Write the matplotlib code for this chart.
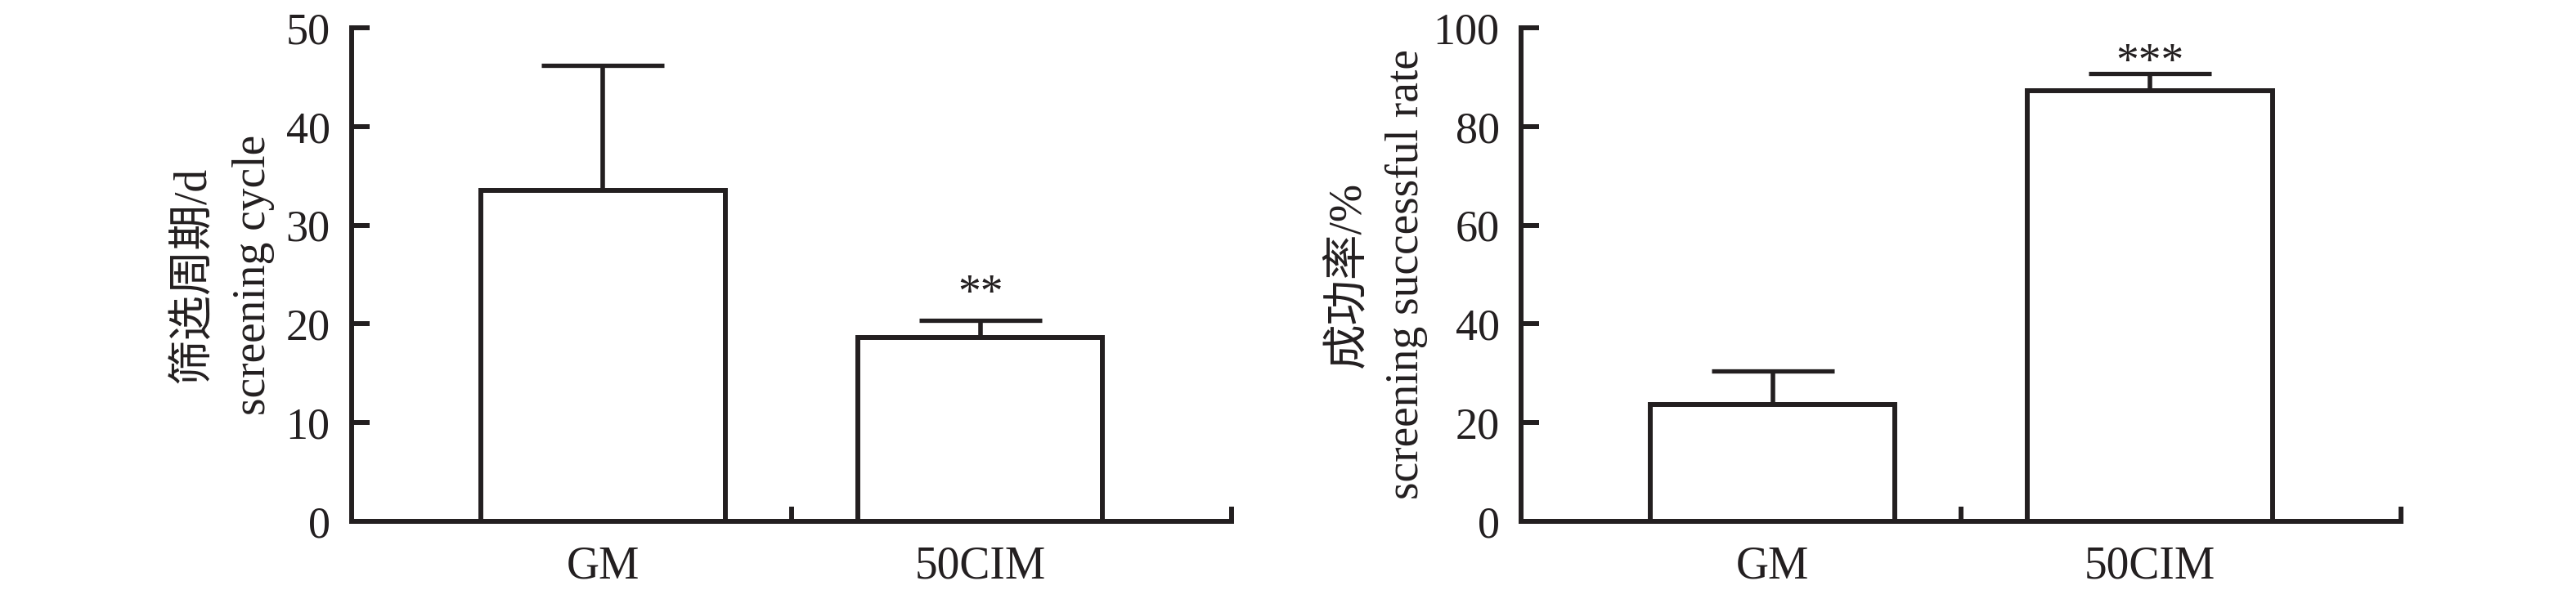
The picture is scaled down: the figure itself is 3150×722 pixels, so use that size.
import numpy as np
import matplotlib
matplotlib.use("Agg")
import matplotlib.pyplot as plt
from matplotlib.ticker import FixedLocator

# data
categories = ["GM", "50CIM"]
cycle_mean = [33.5, 18.6]
cycle_err = [12.7, 1.8]
cycle_sig = ["", "**"]
rate_mean = [23.7, 87.3]
rate_err = [6.8, 3.4]
rate_sig = ["", "***"]

ink = "#231F20"
serif = ["Liberation Serif", "Noto Sans CJK SC"]
plt.rcParams["font.family"] = serif
plt.rcParams["text.color"] = ink

fig = plt.figure(figsize=(31.5, 7.22), dpi=100)
ax1 = fig.add_axes([0.1365, 0.1163, 0.3416, 0.8366])
ax2 = fig.add_axes([0.5905, 0.1163, 0.3416, 0.8366])

panels = [
    (ax1, cycle_mean, cycle_err, cycle_sig, 50, 10, "筛选周期/d", "screening cycle",
     -0.180, -0.1115, 12),
    (ax2, rate_mean, rate_err, rate_sig, 100, 20, "成功率/%", "screening successful rate",
     -0.197, -0.130, -1.5),
]

x = np.arange(len(categories))
for ax, mean, err, sig, ymax, ystep, lab_cn, lab_en, xcn, xen, sig_off in panels:
    ax.bar(x, mean, width=0.65, color="white", edgecolor=ink, linewidth=4.3, zorder=3)
    ax.errorbar(x, mean, yerr=[np.zeros(len(mean)), err], fmt="none", ecolor=ink,
                elinewidth=4.0, capsize=54, capthick=3.8, zorder=2)
    for xi, m, e, s in zip(x, mean, err, sig):
        if s:
            ax.annotate(s, xy=(xi, m + e), xytext=(0, sig_off), textcoords="offset points",
                        ha="center", va="baseline", fontsize=40, color=ink,
                        family="Liberation Serif")

    ax.set_xlim(-2 / 3, 5 / 3)
    ax.set_ylim(0, ymax)
    ax.set_yticks(np.arange(0, ymax + 1, ystep))
    ax.set_xticks(x)
    ax.set_xticklabels(categories)
    ax.xaxis.set_minor_locator(FixedLocator([0.5, 5 / 3]))

    for side in ["top", "right"]:
        ax.spines[side].set_visible(False)
    for side in ["left", "bottom"]:
        ax.spines[side].set_linewidth(4.3)
        ax.spines[side].set_color(ink)
        ax.spines[side].set_capstyle("projecting")

    ax.tick_params(axis="y", direction="in", length=16, width=4.3, color=ink,
                   labelsize=39, labelcolor=ink, pad=19)
    ax.tick_params(axis="x", which="major", length=0, labelsize=40,
                   labelcolor=ink, pad=21)
    ax.tick_params(axis="x", which="minor", direction="in", length=13, width=4.3,
                   color=ink)

    ax.text(xcn, 0.5, lab_cn, rotation=90, ha="center", va="center",
            transform=ax.transAxes, fontsize=40, color=ink, family=serif)
    ax.text(xen, 0.5, lab_en, rotation=90, ha="center", va="center",
            transform=ax.transAxes, fontsize=40, color=ink, family=serif)

fig.savefig("out.png", dpi=100, facecolor="white")
